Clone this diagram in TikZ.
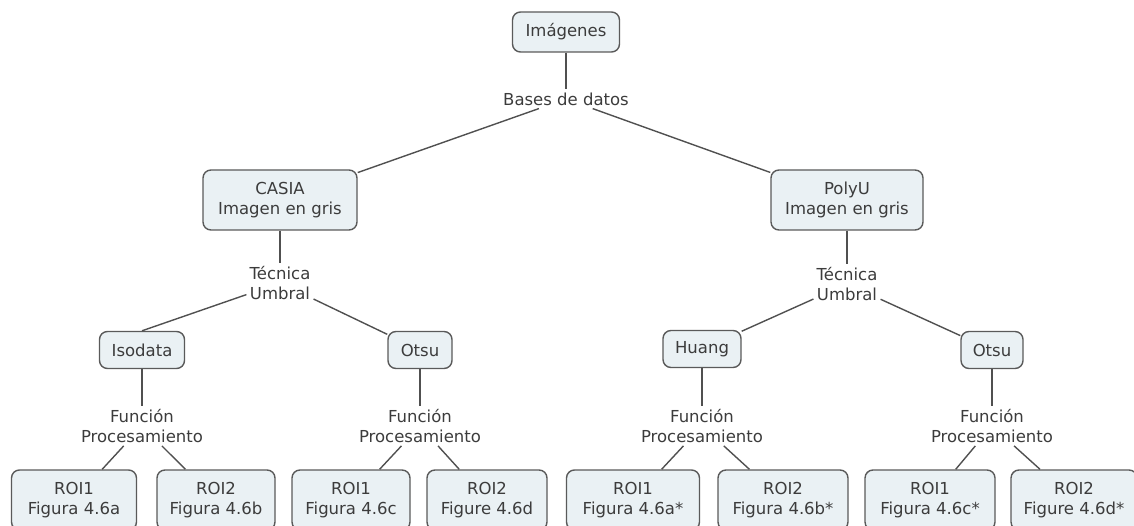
\documentclass[tikz,border=0pt]{standalone}
\usepackage{fontspec}
\setmainfont{DejaVu Sans}
\definecolor{boxfill}{HTML}{EAF1F4}
\definecolor{boxline}{HTML}{5A5A5A}
\definecolor{inkgray}{HTML}{3C3C3C}
\definecolor{linkgray}{HTML}{505050}
\begin{document}
\begin{tikzpicture}[x=1pt,y=-1pt,
  every node/.style={font=\fontsize{16.5}{20}\selectfont, text=inkgray},
  concept/.style={draw=boxline, fill=boxfill, rounded corners=8pt,
                  line width=1.4pt, align=center, inner sep=0pt},
  method/.style={concept, minimum height=37pt},
  roibox/.style={concept, minimum height=60pt},
  link/.style={align=center, inner sep=3pt},
  conn/.style={draw=linkgray, line width=1.4pt}]
\useasboundingbox (0,0) rectangle (1134,526);

% top of the map
\node[concept, minimum width=107pt, minimum height=40pt] (img) at (566,32) {Imágenes};
\node[link] (bases) at (566,99) {Bases de datos};

% databases
\node[concept, minimum width=154pt, minimum height=60pt] (casia) at (280,200) {CASIA\\Imagen en gris};
\node[concept, minimum width=152pt, minimum height=60pt] (polyu) at (847,200) {PolyU\\Imagen en gris};

\node[link] (tecA) at (280,283) {Técnica\\Umbral};
\node[link] (tecB) at (847,284) {Técnica\\Umbral};

% threshold methods
\node[method, minimum width=85pt] (iso)   at (142,350) {Isodata};
\node[method, minimum width=64pt] (otsuA) at (420,350) {Otsu};
\node[method, minimum width=78pt] (huang) at (702,349) {Huang};
\node[method, minimum width=62pt] (otsuB) at (992,350) {Otsu};

\node[link] (fpA) at (142,426) {Función\\Procesamiento};
\node[link] (fpB) at (420,426) {Función\\Procesamiento};
\node[link] (fpC) at (702,426) {Función\\Procesamiento};
\node[link] (fpD) at (992,426) {Función\\Procesamiento};

% regions of interest
\node[roibox, minimum width=125pt] (r1) at (74,500)   {ROI1\\Figura 4.6a};
\node[roibox, minimum width=118pt] (r2) at (216,500)  {ROI2\\Figura 4.6b};
\node[roibox, minimum width=118pt] (r3) at (351,500)  {ROI1\\Figura 4.6c};
\node[roibox, minimum width=120pt] (r4) at (487,500)  {ROI2\\Figure 4.6d};
\node[roibox, minimum width=133pt] (r5) at (633,500)  {ROI1\\Figura 4.6a*};
\node[roibox, minimum width=130pt] (r6) at (783,500)  {ROI2\\Figura 4.6b*};
\node[roibox, minimum width=130pt] (r7) at (930,500)  {ROI1\\Figura 4.6c*};
\node[roibox, minimum width=126pt] (r8) at (1074,500) {ROI2\\Figure 4.6d*};

% connectors
\draw[conn] (img) -- (bases);
\draw[conn] (bases) -- (casia);
\draw[conn] (bases) -- (polyu);
\draw[conn] (casia) -- (tecA);
\draw[conn] (polyu) -- (tecB);
\draw[conn] (tecA) -- (iso.north);
\draw[conn] (tecA) -- (otsuA);
\draw[conn] (tecB) -- (huang);
\draw[conn] (tecB) -- (otsuB);
\draw[conn] (iso) -- (fpA);
\draw[conn] (otsuA) -- (fpB);
\draw[conn] (huang) -- (fpC);
\draw[conn] (otsuB) -- (fpD);
\draw[conn] (fpA) -- (r1);
\draw[conn] (fpA) -- (r2);
\draw[conn] (fpB) -- (r3);
\draw[conn] (fpB) -- (r4);
\draw[conn] (fpC) -- (r5);
\draw[conn] (fpC) -- (r6);
\draw[conn] (fpD) -- (r7);
\draw[conn] (fpD) -- (r8);
\end{tikzpicture}
\end{document}
